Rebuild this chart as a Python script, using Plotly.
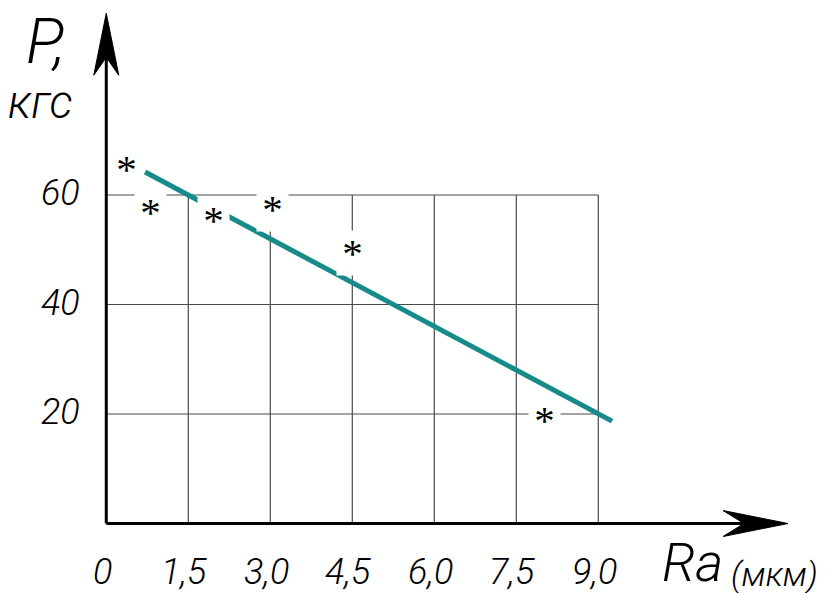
import plotly.graph_objects as go

# Measured points: roughness Ra (мкм) vs load P (кгс)
ra = [0.37, 0.80, 1.97, 3.04, 4.50, 8.02]
p = [66.0, 58.2, 56.8, 58.8, 50.6, 20.1]

# Trend line end points
fit_ra = [0.71, 9.25]
fit_p = [64.2, 18.7]

# Axis ticks
x_ticks = [0, 1.5, 3.0, 4.5, 6.0, 7.5, 9.0]
x_tick_text = ["0", "1,5", "3,0", "4,5", "6,0", "7,5", "9,0"]
y_ticks = [20, 40, 60]
y_tick_text = ["20", "40", "60"]

W, H = 837, 593
X_RANGE = [-1.944, 13.366]
Y_RANGE = [-12.69, 95.62]
X_AXIS_END = 12.47   # tip of the Ra arrow
Y_AXIS_END = 93.2    # tip of the P arrow

# thin italic drafting-style lettering
FONT = "Roboto, DejaVu Sans Condensed, sans-serif"
FW = 300
GRID = "#4a4a4a"
TEAL = "#178a8a"

fig = go.Figure()

# trend line
fig.add_trace(go.Scatter(
    x=fit_ra, y=fit_p, mode="lines",
    line=dict(color=TEAL, width=5), hoverinfo="skip", showlegend=False,
))

shapes = []
# grid: vertical lines up to the top tick, horizontal lines up to the last x tick
for t in x_ticks[1:]:
    shapes.append(dict(type="line", xref="x", yref="y", x0=t, x1=t, y0=0, y1=y_ticks[-1],
                       line=dict(color=GRID, width=1.2), layer="below"))
for t in y_ticks:
    shapes.append(dict(type="line", xref="x", yref="y", x0=0, x1=x_ticks[-1], y0=t, y1=t,
                       line=dict(color=GRID, width=1.2), layer="below"))

# main axes
shapes.append(dict(type="line", xref="x", yref="y", x0=0, x1=0, y0=0, y1=Y_AXIS_END - 8,
                   line=dict(color="black", width=3)))
shapes.append(dict(type="line", xref="x", yref="y", x0=0, x1=X_AXIS_END - 0.6, y0=0, y1=0,
                   line=dict(color="black", width=3)))

# arrow heads (pixel-sized, anchored at the tips)
shapes.append(dict(type="path", xref="x", yref="y", xsizemode="pixel", ysizemode="pixel",
                   xanchor=0, yanchor=Y_AXIS_END,
                   path="M 0 0 L -12.5 -62 L 0 -44 L 12.5 -62 Z",
                   fillcolor="black", line=dict(color="black", width=1)))
shapes.append(dict(type="path", xref="x", yref="y", xsizemode="pixel", ysizemode="pixel",
                   xanchor=X_AXIS_END, yanchor=0,
                   path="M 0 0 L -65 13 L -44 0 L -65 -13 Z",
                   fillcolor="black", line=dict(color="black", width=1)))

annotations = []
# tick labels
for t, s in zip(x_ticks, x_tick_text):
    annotations.append(dict(x=t, y=0, xref="x", yref="y", text=s, showarrow=False,
                            xanchor="center", yanchor="middle", xshift=-4, yshift=-48.5,
                            font=dict(family=FONT, size=36, weight=FW, color="black",
                                      style="italic")))
for t, s in zip(y_ticks, y_tick_text):
    annotations.append(dict(x=0, y=t, xref="x", yref="y", text=s, showarrow=False,
                            xanchor="right", yanchor="middle", xshift=-24, yshift=2,
                            font=dict(family=FONT, size=36, weight=FW, color="black",
                                      style="italic")))

# measured points: asterisks on white boxes
for xv, yv in zip(ra, p):
    annotations.append(dict(x=xv, y=yv, xref="x", yref="y", text="*", showarrow=False,
                            xanchor="center", yanchor="middle", xshift=0, yshift=-7,
                            width=31, height=44, bgcolor="white", borderpad=0,
                            valign="middle", align="center",
                            font=dict(family="Liberation Serif, Times New Roman, serif",
                                      size=41, color="black")))

# axis titles
def paper(px, py):
    return px / W, 1 - py / H

for txt, (px, py), size in [("P,", (45, 42), 63), ("кгс", (40, 102), 46),
                            ("Ra", (692, 562), 54), ("(мкм)", (774, 574), 34)]:
    xp, yp = paper(px, py)
    annotations.append(dict(x=xp, y=yp, xref="paper", yref="paper", text=txt, showarrow=False,
                            xanchor="center", yanchor="middle",
                            font=dict(family=FONT, size=size, weight=FW, color="black",
                                      style="italic")))

fig.update_layout(
    width=W, height=H,
    margin=dict(l=0, r=0, t=0, b=0),
    paper_bgcolor="white", plot_bgcolor="white",
    xaxis=dict(range=X_RANGE, visible=False, fixedrange=True),
    yaxis=dict(range=Y_RANGE, visible=False, fixedrange=True),
    shapes=shapes, annotations=annotations, showlegend=False,
)

fig.write_html("out.html")
